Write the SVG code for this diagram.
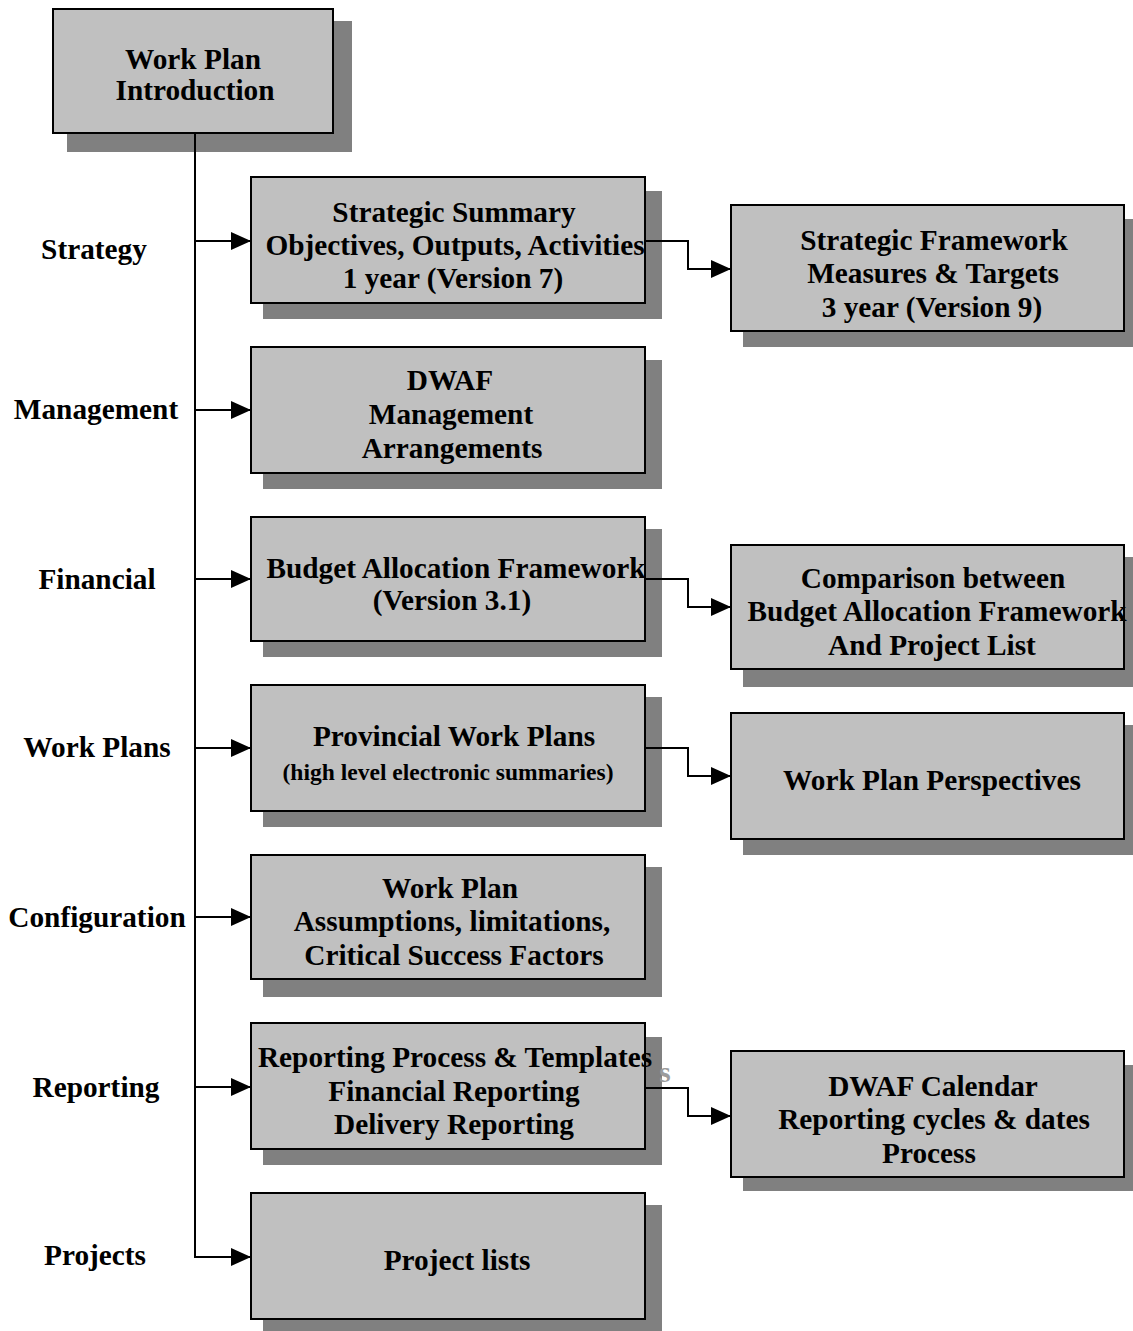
<svg xmlns="http://www.w3.org/2000/svg" width="1133" height="1331" viewBox="0 0 1133 1331">
  <style>
    .box { fill: #c0c0c0; stroke: #000; stroke-width: 2; }
    .shadow { fill: #808080; }
    .t { font-family: "Liberation Serif", "Times New Roman", serif; font-weight: bold; font-size: 29.3px; fill: #000; text-anchor: middle; }
    .small { font-size: 24px; }
    .ghost { fill: #9c9c9c; }
    .conn { fill: none; stroke: #000; stroke-width: 2; }
  </style>
  <defs>
    <marker id="arrow" markerUnits="userSpaceOnUse" markerWidth="20" markerHeight="20" refX="20" refY="9" orient="auto">
      <path d="M0,0 L20,9 L0,18 Z" fill="#000"/>
    </marker>
  </defs>
  <rect width="1133" height="1331" fill="#fff"/>

  <!-- top node -->
  <g id="intro">
    <rect class="shadow" x="67" y="21" width="285" height="131"/>
    <rect class="box" x="53" y="9" width="280" height="124"/>
    <text class="t" x="193" y="69">Work Plan</text>
    <text class="t" x="195" y="100">Introduction</text>
  </g>

  <!-- section labels -->
  <g id="labels">
    <text class="t" x="94" y="259">Strategy</text>
    <text class="t" x="96" y="419">Management</text>
    <text class="t" x="97" y="589">Financial</text>
    <text class="t" x="97" y="757">Work Plans</text>
    <text class="t" x="97" y="927">Configuration</text>
    <text class="t" x="96" y="1097">Reporting</text>
    <text class="t" x="95" y="1265">Projects</text>
  </g>

  <!-- left column -->
  <g id="strategic-summary">
    <rect class="shadow" x="263" y="191" width="399" height="128"/>
    <rect class="box" x="251" y="177" width="394" height="126"/>
    <text class="t" x="454" y="222">Strategic Summary</text>
    <text class="t" x="455" y="255">Objectives, Outputs, Activities</text>
    <text class="t" x="453" y="288">1 year (Version 7)</text>
  </g>
  <g id="management">
    <rect class="shadow" x="263" y="360" width="399" height="129"/>
    <rect class="box" x="251" y="347" width="394" height="126"/>
    <text class="t" x="450" y="390">DWAF</text>
    <text class="t" x="451" y="424">Management</text>
    <text class="t" x="452" y="458">Arrangements</text>
  </g>
  <g id="budget">
    <rect class="shadow" x="263" y="529" width="399" height="128"/>
    <rect class="box" x="251" y="517" width="394" height="124"/>
    <text class="t" x="456" y="578">Budget Allocation Framework</text>
    <text class="t" x="452" y="610">(Version 3.1)</text>
  </g>
  <g id="provincial">
    <rect class="shadow" x="263" y="697" width="399" height="130"/>
    <rect class="box" x="251" y="685" width="394" height="126"/>
    <text class="t" x="454" y="746">Provincial Work Plans</text>
    <text class="t small" x="448" y="780" textLength="331" lengthAdjust="spacingAndGlyphs">(high level electronic summaries)</text>
  </g>
  <g id="configuration">
    <rect class="shadow" x="263" y="867" width="399" height="130"/>
    <rect class="box" x="251" y="855" width="394" height="124"/>
    <text class="t" x="450" y="898">Work Plan</text>
    <text class="t" x="452" y="931">Assumptions, limitations,</text>
    <text class="t" x="454" y="965">Critical Success Factors</text>
  </g>
  <g id="reporting">
    <rect class="shadow" x="263" y="1037" width="399" height="128"/>
    <text class="t ghost" x="665" y="1082">s</text>
    <rect class="box" x="251" y="1023" width="394" height="126"/>
    <text class="t" x="455" y="1067">Reporting Process &amp; Templates</text>
    <text class="t" x="454" y="1101">Financial Reporting</text>
    <text class="t" x="454" y="1134">Delivery Reporting</text>
  </g>
  <g id="projects">
    <rect class="shadow" x="263" y="1205" width="399" height="130"/>
    <rect class="box" x="251" y="1193" width="394" height="126"/>
    <text class="t" x="457" y="1270">Project lists</text>
  </g>

  <!-- right column -->
  <g id="strategic-framework">
    <rect class="shadow" x="743" y="219" width="400" height="128"/>
    <rect class="box" x="731" y="205" width="393" height="126"/>
    <text class="t" x="934" y="250">Strategic Framework</text>
    <text class="t" x="933" y="283">Measures &amp; Targets</text>
    <text class="t" x="932" y="317">3 year (Version 9)</text>
  </g>
  <g id="comparison">
    <rect class="shadow" x="743" y="557" width="400" height="130"/>
    <rect class="box" x="731" y="545" width="393" height="124"/>
    <text class="t" x="933" y="588">Comparison between</text>
    <text class="t" x="937" y="621">Budget Allocation Framework</text>
    <text class="t" x="932" y="655">And Project List</text>
  </g>
  <g id="perspectives">
    <rect class="shadow" x="743" y="725" width="400" height="130"/>
    <rect class="box" x="731" y="713" width="393" height="126"/>
    <text class="t" x="932" y="790">Work Plan Perspectives</text>
  </g>
  <g id="calendar">
    <rect class="shadow" x="743" y="1065" width="400" height="126"/>
    <rect class="box" x="731" y="1051" width="393" height="126"/>
    <text class="t" x="933" y="1096">DWAF Calendar</text>
    <text class="t" x="934" y="1129">Reporting cycles &amp; dates</text>
    <text class="t" x="929" y="1163">Process</text>
  </g>

  <!-- connectors -->
  <g id="connectors">
    <path class="conn" d="M195,133 V1257 H251" marker-end="url(#arrow)"/>
    <path class="conn" d="M195,241 H251" marker-end="url(#arrow)"/>
    <path class="conn" d="M195,410 H251" marker-end="url(#arrow)"/>
    <path class="conn" d="M195,579 H251" marker-end="url(#arrow)"/>
    <path class="conn" d="M195,748 H251" marker-end="url(#arrow)"/>
    <path class="conn" d="M195,917 H251" marker-end="url(#arrow)"/>
    <path class="conn" d="M195,1087 H251" marker-end="url(#arrow)"/>
    <path class="conn" d="M645,241 H688 V269 H731" marker-end="url(#arrow)"/>
    <path class="conn" d="M645,579 H688 V607 H731" marker-end="url(#arrow)"/>
    <path class="conn" d="M645,748 H688 V776 H731" marker-end="url(#arrow)"/>
    <path class="conn" d="M645,1088 H688 V1116 H731" marker-end="url(#arrow)"/>
  </g>
</svg>
